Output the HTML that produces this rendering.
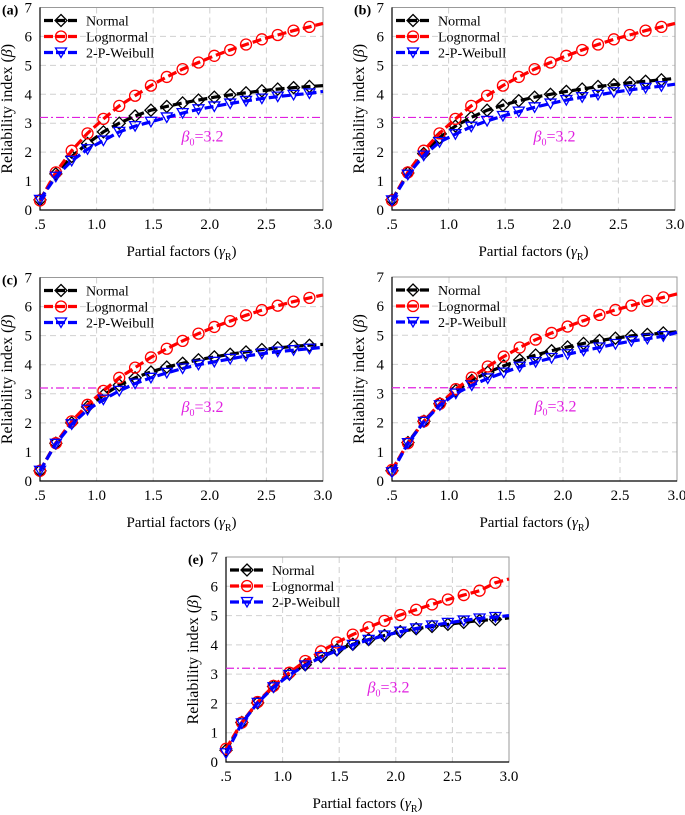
<!DOCTYPE html>
<html><head><meta charset="utf-8"><style>
body{margin:0;background:#fff;width:685px;height:815px;overflow:hidden}
svg{display:block;font-family:"Liberation Serif","Times New Roman",serif}
svg text{font-family:"Liberation Serif","Times New Roman",serif}
</style></head><body>
<svg id="fig" width="685" height="815"></svg>
<script>
const xs=[0.5,0.64,0.78,0.92,1.06,1.2,1.34,1.48,1.62,1.76,1.9,2.04,2.18,2.32,2.46,2.6,2.74,2.88,3.0];
const xTicks=[0.5,1.0,1.5,2.0,2.5,3.0];
const xTickLabels=[".5","1.0","1.5","2.0","2.5","3.0"];
const yTicks=[0,1,2,3,4,5,6,7];
const beta0=3.2;
const normA=[.35,1.25,1.85,2.3,2.7,3.0,3.25,3.45,3.58,3.7,3.8,3.9,3.98,4.05,4.12,4.18,4.23,4.27,4.3];
const logA=[.33,1.3,2.05,2.65,3.15,3.6,3.95,4.3,4.6,4.87,5.1,5.33,5.53,5.72,5.9,6.05,6.2,6.33,6.45];
const weiA=[.35,1.15,1.7,2.1,2.4,2.7,2.9,3.05,3.2,3.35,3.48,3.58,3.68,3.77,3.85,3.92,3.98,4.03,4.1];
const normB=[.35,1.28,1.95,2.5,2.9,3.2,3.45,3.62,3.78,3.9,4.0,4.1,4.18,4.27,4.33,4.4,4.45,4.5,4.55];
const logB=[.33,1.3,2.05,2.65,3.15,3.6,3.95,4.3,4.6,4.87,5.1,5.33,5.53,5.72,5.9,6.05,6.2,6.33,6.45];
const weiB=[.33,1.22,1.88,2.35,2.62,2.88,3.08,3.25,3.4,3.55,3.68,3.8,3.9,3.98,4.07,4.15,4.22,4.28,4.35];
const normC=[.35,1.3,2.0,2.55,2.95,3.3,3.55,3.75,3.92,4.05,4.17,4.27,4.36,4.44,4.52,4.58,4.63,4.67,4.7];
const logC=[.35,1.3,2.05,2.62,3.1,3.55,3.9,4.25,4.55,4.82,5.07,5.3,5.5,5.7,5.88,6.03,6.17,6.3,6.4];
const weiC=[.35,1.28,1.95,2.45,2.8,3.1,3.35,3.55,3.72,3.87,4.0,4.1,4.2,4.3,4.38,4.45,4.5,4.55,4.6];
const normD=[.35,1.32,2.05,2.65,3.1,3.45,3.73,3.95,4.15,4.32,4.47,4.6,4.72,4.82,4.9,4.98,5.03,5.08,5.12];
const logD=[.38,1.3,2.05,2.65,3.15,3.55,3.93,4.27,4.58,4.85,5.08,5.3,5.5,5.7,5.87,6.02,6.18,6.3,6.42];
const weiD=[.3,1.3,2.03,2.6,3.0,3.28,3.52,3.72,3.92,4.08,4.22,4.35,4.47,4.58,4.7,4.8,4.88,4.97,5.1];
const normE=[.4,1.35,2.02,2.58,3.0,3.32,3.6,3.83,4.02,4.18,4.32,4.45,4.55,4.63,4.7,4.77,4.83,4.87,4.92];
const logE=[.45,1.35,2.05,2.6,3.05,3.45,3.78,4.08,4.35,4.6,4.82,5.02,5.2,5.38,5.55,5.7,5.85,6.12,6.25];
const weiE=[.3,1.32,2.02,2.55,2.97,3.3,3.58,3.8,4.0,4.17,4.32,4.45,4.56,4.66,4.75,4.83,4.9,4.95,5.0];

const NS="http://www.w3.org/2000/svg";
const svg=document.getElementById('fig');
function mk(tag,attrs,parent,text){const e=document.createElementNS(NS,tag);for(const k in attrs)e.setAttribute(k,attrs[k]);if(text!==undefined)e.textContent=text;(parent||svg).appendChild(e);return e;}

function marker(g,type,x,y,color){
  let m;
  if(type==='d') m=mk('polygon',{points:`${x},${y-6} ${x+6},${y} ${x},${y+6} ${x-6},${y}`,fill:'none',stroke:color,'stroke-width':1.3},g);
  else if(type==='o') m=mk('circle',{cx:x,cy:y,r:5.5,fill:'none',stroke:color,'stroke-width':1.3},g);
  else m=mk('polygon',{points:`${x-5.5},${y-4.5} ${x+5.5},${y-4.5} ${x},${y+5}`,fill:'none',stroke:color,'stroke-width':1.3},g);
  return m;
}

function panel(id,label,L,R,B,T,norm,logn,wei){
  const g=mk('g',{});
  
  
  const sx=v=>L+(v-0.5)/2.5*(R-L);
  const sy=v=>B-v/7*(B-T);
  xTicks.forEach(t=>{if(t>0.5){const l=mk('line',{x1:sx(t),x2:sx(t),y1:T,y2:B,stroke:'#d0d0d0','stroke-dasharray':'6,4','stroke-width':1},g);}});
  yTicks.forEach(t=>{if(t>0){const l=mk('line',{x1:L,x2:R,y1:sy(t),y2:sy(t),stroke:'#d0d0d0','stroke-dasharray':'6,4','stroke-width':1},g);}});
  const fr=mk('rect',{x:L,y:T,width:R-L,height:B-T,fill:'none',stroke:'#999','stroke-width':1},g);
  
  const ax=mk('path',{d:`M${L},${T}V${B}H${R}`,fill:'none',stroke:'#000','stroke-width':1.2},g);
  
  yTicks.forEach(t=>{const tx=mk('text',{x:L-8,y:sy(t)+5,'text-anchor':'end','font-size':15},g,String(t));});
  xTicks.forEach((t,i)=>{const tx=mk('text',{x:sx(t),y:B+19,'text-anchor':'middle','font-size':15},g,xTickLabels[i]);});
  const xt=mk('text',{x:(L+R)/2,y:B+46,'text-anchor':'middle','font-size':15},g);
  
  xt.innerHTML='Partial factors (<tspan font-style="italic">γ</tspan><tspan font-size="10" dy="4">R</tspan><tspan dy="-4">)</tspan>';
  const yt=mk('text',{x:0,y:0,'text-anchor':'middle','font-size':16,transform:`translate(${L-28},${(T+B)/2}) rotate(-90)`},g);
  
  yt.innerHTML='Reliability index (<tspan font-style="italic">β</tspan>)';
  if(label){const lb=mk('text',{x:L-38,y:T+7,'font-size':14,'font-weight':'bold'},g,label);}
  const bl=mk('line',{x1:L,x2:R,y1:sy(beta0),y2:sy(beta0),stroke:'#e020e0','stroke-width':1.2,'stroke-dasharray':'8,3,2,3'},g);
  
  const bt=mk('text',{x:sx(1.75),y:sy(beta0)+24,'font-size':16,fill:'#e020e0'},g);
  
  bt.innerHTML='<tspan font-style="italic">β</tspan><tspan font-size="10" dy="4">0</tspan><tspan dy="-4">=3.2</tspan>';
  const series=[['normal',norm,'#000','d'],['lognormal',logn,'#f00','o'],['weibull',wei,'#00f','t']];
  series.forEach(([nm,vals,col,mt])=>{
    const sg=mk('g',{},g);
    
    const d=vals.map((v,i)=>(i?'L':'M')+sx(xs[i]).toFixed(1)+','+sy(v).toFixed(1)).join('');
    const p=mk('path',{d:d,fill:'none',stroke:col,'stroke-width':3.2,'stroke-dasharray':'9,4'},sg);
    
    vals.forEach((v,i)=>{if(i<vals.length-1){const m=marker(sg,mt,sx(xs[i]),sy(v),col);}});
  });
  const names=['Normal','Lognormal','2-P-Weibull'];
  const lg=mk('g',{},g);
  series.forEach(([nm,vals,col,mt],i)=>{
    const yy=T+13+i*16;
    const e=mk('g',{},lg);
    mk('line',{x1:L+4,x2:L+38,y1:yy,y2:yy,stroke:col,'stroke-width':3.2,'stroke-dasharray':'9,3'},e);
    marker(e,mt,L+21,yy,col);
    mk('text',{x:L+46,y:yy+5,'font-size':14},e,names[i]);
  });
}
panel('a','(a)',40,323,210,7.5,normA,logA,weiA);
panel('b','(b)',392,675,210,7.5,normB,logB,weiB);
panel('c','(c)',40,323,481,277.5,normC,logC,weiC);
panel('d','',392,677,481,277,normD,logD,weiD);
panel('e','(e)',226,509,762,557,normE,logE,weiE);
</script>
</body></html>
